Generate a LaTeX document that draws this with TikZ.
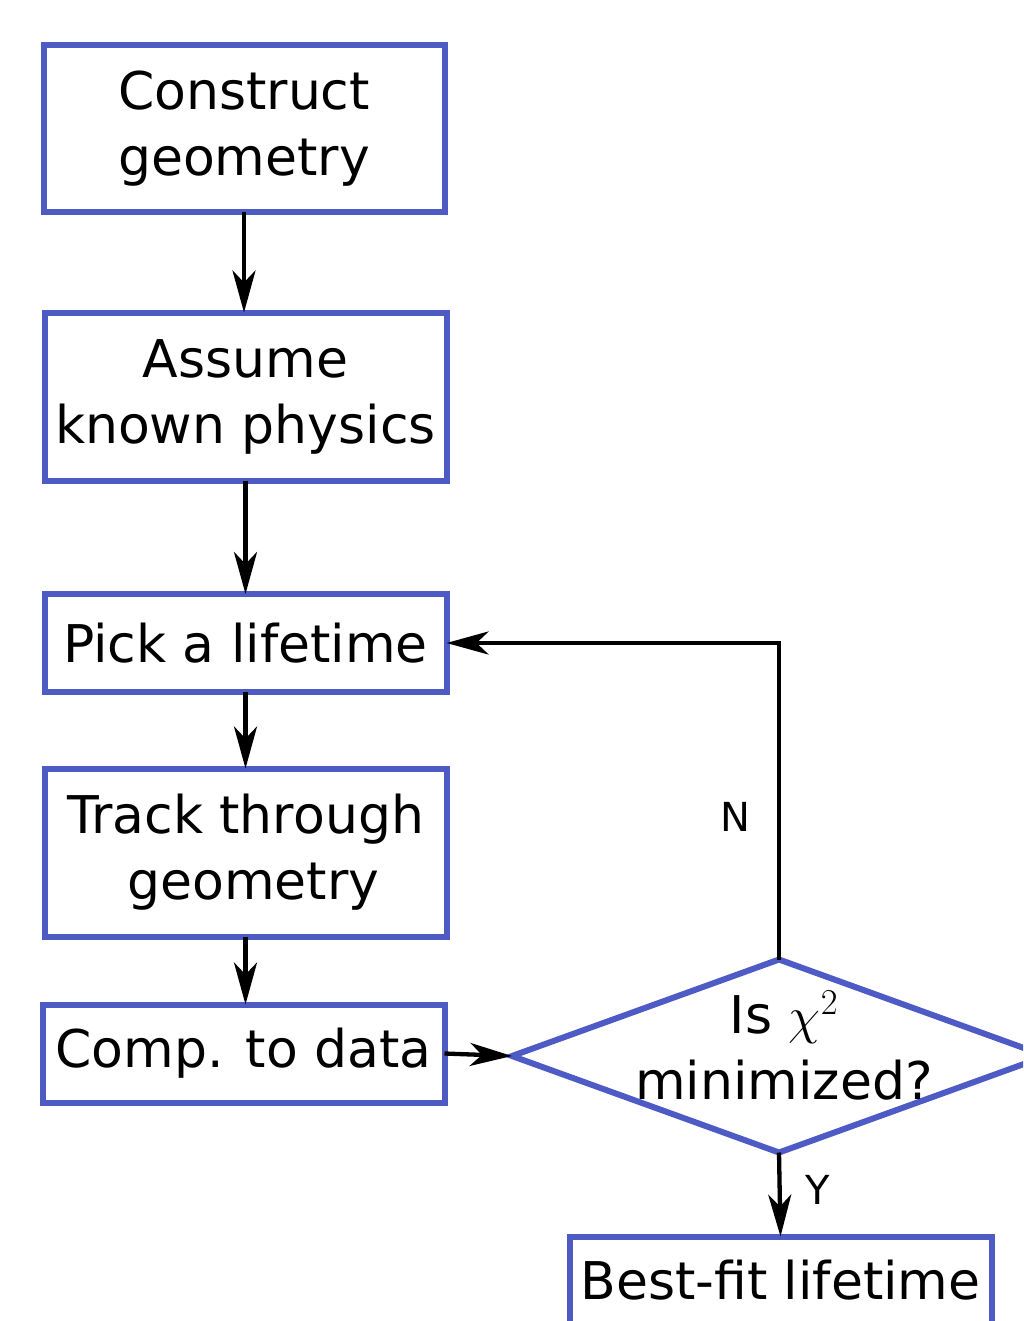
\RequirePackage{fix-cm}
\documentclass[tikz,border=0pt]{standalone}
\usepackage{fontspec}
\setmainfont{DejaVu Sans}
\usetikzlibrary{arrows.meta,shapes.geometric}
\definecolor{boxblue}{RGB}{79,91,196}
\begin{document}
\begin{tikzpicture}[x=1pt,y=-1pt,
  box/.style={draw=boxblue,line width=6pt,inner sep=0pt,outer sep=0pt,align=center,font=\fontsize{52}{66}\selectfont},
  txt/.style={inner sep=0pt,align=center,font=\fontsize{52}{66}\selectfont},
  arr/.style={line width=4.3pt,-{Stealth[length=42pt,width=23pt,inset=12pt]}},
  lab/.style={inner sep=0pt,font=\fontsize{40}{48}\selectfont}]
\useasboundingbox (0,0) rectangle (1023,1321);
\clip (0,0) rectangle (1023,1321);
\node[box,minimum width=401pt,minimum height=167pt] (a) at (244,129) {Construct\\geometry};
\node[box,minimum width=402pt,minimum height=168pt] (b) at (245.5,396.5) {Assume\\known physics};
\node[box,minimum width=402pt,minimum height=98pt] (c) at (245.5,643) {Pick a lifetime};
\node[box,minimum width=402pt,minimum height=168pt] (t) at (245.5,852.5) {Track through\\\hspace*{16pt}geometry};
\node[box,minimum width=402pt,minimum height=98pt] (e) at (243.5,1053.5) {Comp. to data};
\node[draw=boxblue,line width=6pt,shape=diamond,inner sep=0pt,outer sep=0pt,minimum width=534pt,minimum height=193pt] (d) at (779,1056) {};
\node[txt] (dt) at (784,1046) {Is $\chi^2$\\minimized?};
\node[box,anchor=north,minimum width=422pt,minimum height=88pt] (f) at (780.5,1236.5) {Best-fit lifetime};
\draw[arr] (a.south) -- (a.south |- b.north);
\draw[arr] (b.south) -- (b.south |- c.north);
\draw[arr] (c.south) -- (c.south |- t.north);
\draw[arr] (t.south) -- (t.south |- e.north);
\draw[arr] (e.east) -- (d.west);
\draw[arr] (d.north) -- (d.north |- c.east) -- (c.east);
\draw[arr] (d.south) -- (f.north);
\node[lab] (n) at (735,817) {N};
\node[lab] (y) at (818,1190) {Y};
\end{tikzpicture}
\end{document}
